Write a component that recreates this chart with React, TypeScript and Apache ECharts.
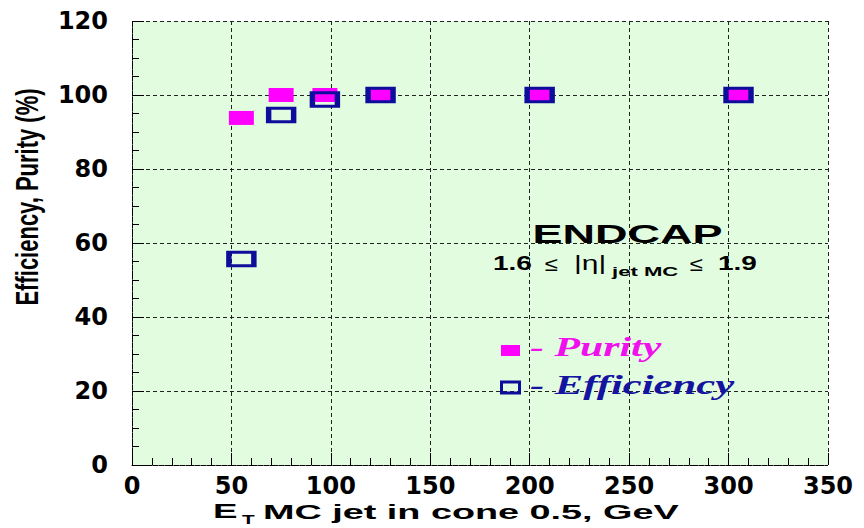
import React, { useEffect, useRef } from "react";
import * as echarts from "echarts";

const energyBins = [55, 75, 97, 125, 205, 305];
const purityValues = [93.8, 100, 100, 100, 100, 100];
const efficiencyBins = [55, 75, 97, 125, 205, 305];
const efficiencyValues = [55.7, 94.6, 98.8, 100, 100, 100];
const xTicks = [0, 50, 100, 150, 200, 250, 300, 350];
const yTicks = [0, 20, 40, 60, 80, 100, 120];

const SANS = '"Liberation Sans", Arial, sans-serif';
const SERIF = '"Liberation Serif", "Times New Roman", serif';
const TICKFONT = '"DejaVu Sans", "Liberation Sans", sans-serif';

export default function App() {
  const ref = useRef<HTMLDivElement>(null);
  useEffect(() => {
    if (!ref.current) return;
    const chart = echarts.init(ref.current, null, { renderer: "svg" });
    const purity = energyBins.map((x, i) => [x, purityValues[i]]);
    const eff = efficiencyBins.map((x, i) => [x, efficiencyValues[i]]);
    const gridLine = { color: "#222", width: 1, type: [4, 3] as any };
    const txt = (
      text: string,
      x: number,
      y: number,
      font: string,
      fill: string,
      sx: number,
      align = "left",
      extra: any = {}
    ) => ({
      type: "text",
      x,
      y,
      scaleX: sx,
      z: 100,
      style: { text, font, fill, align, verticalAlign: "middle" },
      ...extra,
    });
    chart.setOption({
      animation: false,
      backgroundColor: "#ffffff",
      grid: {
        left: 132,
        right: 36,
        top: 21,
        bottom: 63,
        show: true,
        backgroundColor: "#e2fce0",
        borderWidth: 0,
      },
      xAxis: {
        type: "value",
        min: xTicks[0],
        max: xTicks[xTicks.length - 1],
        interval: xTicks[1] - xTicks[0],
        axisLine: { show: true, lineStyle: { color: "#000", width: 1, type: [2, 1] } },
        axisTick: { show: true, inside: true, length: 12, lineStyle: { color: "#000" } },
        minorTick: { show: true, splitNumber: 5, length: 7, lineStyle: { color: "#000" } },
        axisLabel: {
          color: "#000",
          fontFamily: TICKFONT,
          fontWeight: "bold",
          fontSize: 24,
          margin: 9,
        },
        splitLine: { show: true, lineStyle: gridLine },
      },
      yAxis: {
        type: "value",
        min: yTicks[0],
        max: yTicks[yTicks.length - 1],
        interval: yTicks[1] - yTicks[0],
        axisLine: { show: true, lineStyle: { color: "#000", width: 1, type: [2, 1] } },
        axisTick: { show: true, inside: true, length: 12, lineStyle: { color: "#000" } },
        minorTick: { show: true, splitNumber: 4, length: 7, lineStyle: { color: "#000" } },
        axisLabel: {
          color: "#000",
          fontFamily: TICKFONT,
          fontWeight: "bold",
          fontSize: 24,
          margin: 24,
        },
        splitLine: { show: true, lineStyle: gridLine },
      },
      series: [
        {
          name: "Purity",
          type: "scatter",
          data: purity,
          symbol: "rect",
          symbolSize: [25, 14],
          itemStyle: { color: "#ff00ff", opacity: 1 },
          z: 2,
        },
        {
          name: "Efficiency",
          type: "scatter",
          data: eff,
          symbol: "rect",
          symbolSize: [25, 13.5],
          itemStyle: {
            color: "rgba(0,0,0,0)",
            borderColor: "#0d0d9c",
            borderWidth: 4,
            opacity: 1,
          },
          z: 3,
        },
      ],
      graphic: [
        txt("ENDCAP", 627.5, 234, `bold 25px ${SANS}`, "#000", 1.8, "center"),
        txt("1.6", 493, 263, `bold 20px ${SANS}`, "#000", 1.4),
        txt("\u2264", 545, 264, `20px ${SANS}`, "#000", 1.2),
        txt("|\u03b7|", 574, 263, `20px ${SANS}`, "#000", 1.5),
        txt("jet MC", 612, 272, `bold 13px ${SANS}`, "#000", 1.7),
        txt("\u2264", 690, 264, `20px ${SANS}`, "#000", 1.2),
        txt("1.9", 718, 263, `bold 20px ${SANS}`, "#000", 1.4),
        {
          type: "rect",
          z: 100,
          shape: { x: 501, y: 345, width: 19, height: 11 },
          style: { fill: "#ff00ff" },
        },
        {
          type: "rect",
          z: 100,
          shape: { x: 501.5, y: 382, width: 18, height: 11 },
          style: { fill: "none", stroke: "#0d0d9c", lineWidth: 3 },
        },
        txt("- Purity", 530, 347, `italic bold 27px ${SERIF}`, "#f010ee", 1.55),
        txt("- Efficiency", 530, 385, `italic bold 27px ${SERIF}`, "#1414a0", 1.58),
        txt("E", 213, 511, `bold 21px ${SANS}`, "#000", 1.75),
        txt("T", 242, 520, `bold 13px ${SANS}`, "#000", 1.6),
        txt("MC jet in cone 0.5, GeV", 263, 511, `bold 21px ${SANS}`, "#000", 1.8),
        {
          type: "text",
          x: 28,
          y: 197,
          rotation: Math.PI / 2,
          scaleY: 1.4,
          z: 100,
          style: {
            text: "Efficiency, Purity (%)",
            font: `bold 22px ${SANS}`,
            fill: "#000",
            align: "center",
            verticalAlign: "middle",
          },
        },
      ],
    });
    return () => chart.dispose();
  }, []);
  return (
    <div
      ref={ref}
      style={{ position: "fixed", left: 0, top: 0, width: 864, height: 528 }}
    />
  );
}
